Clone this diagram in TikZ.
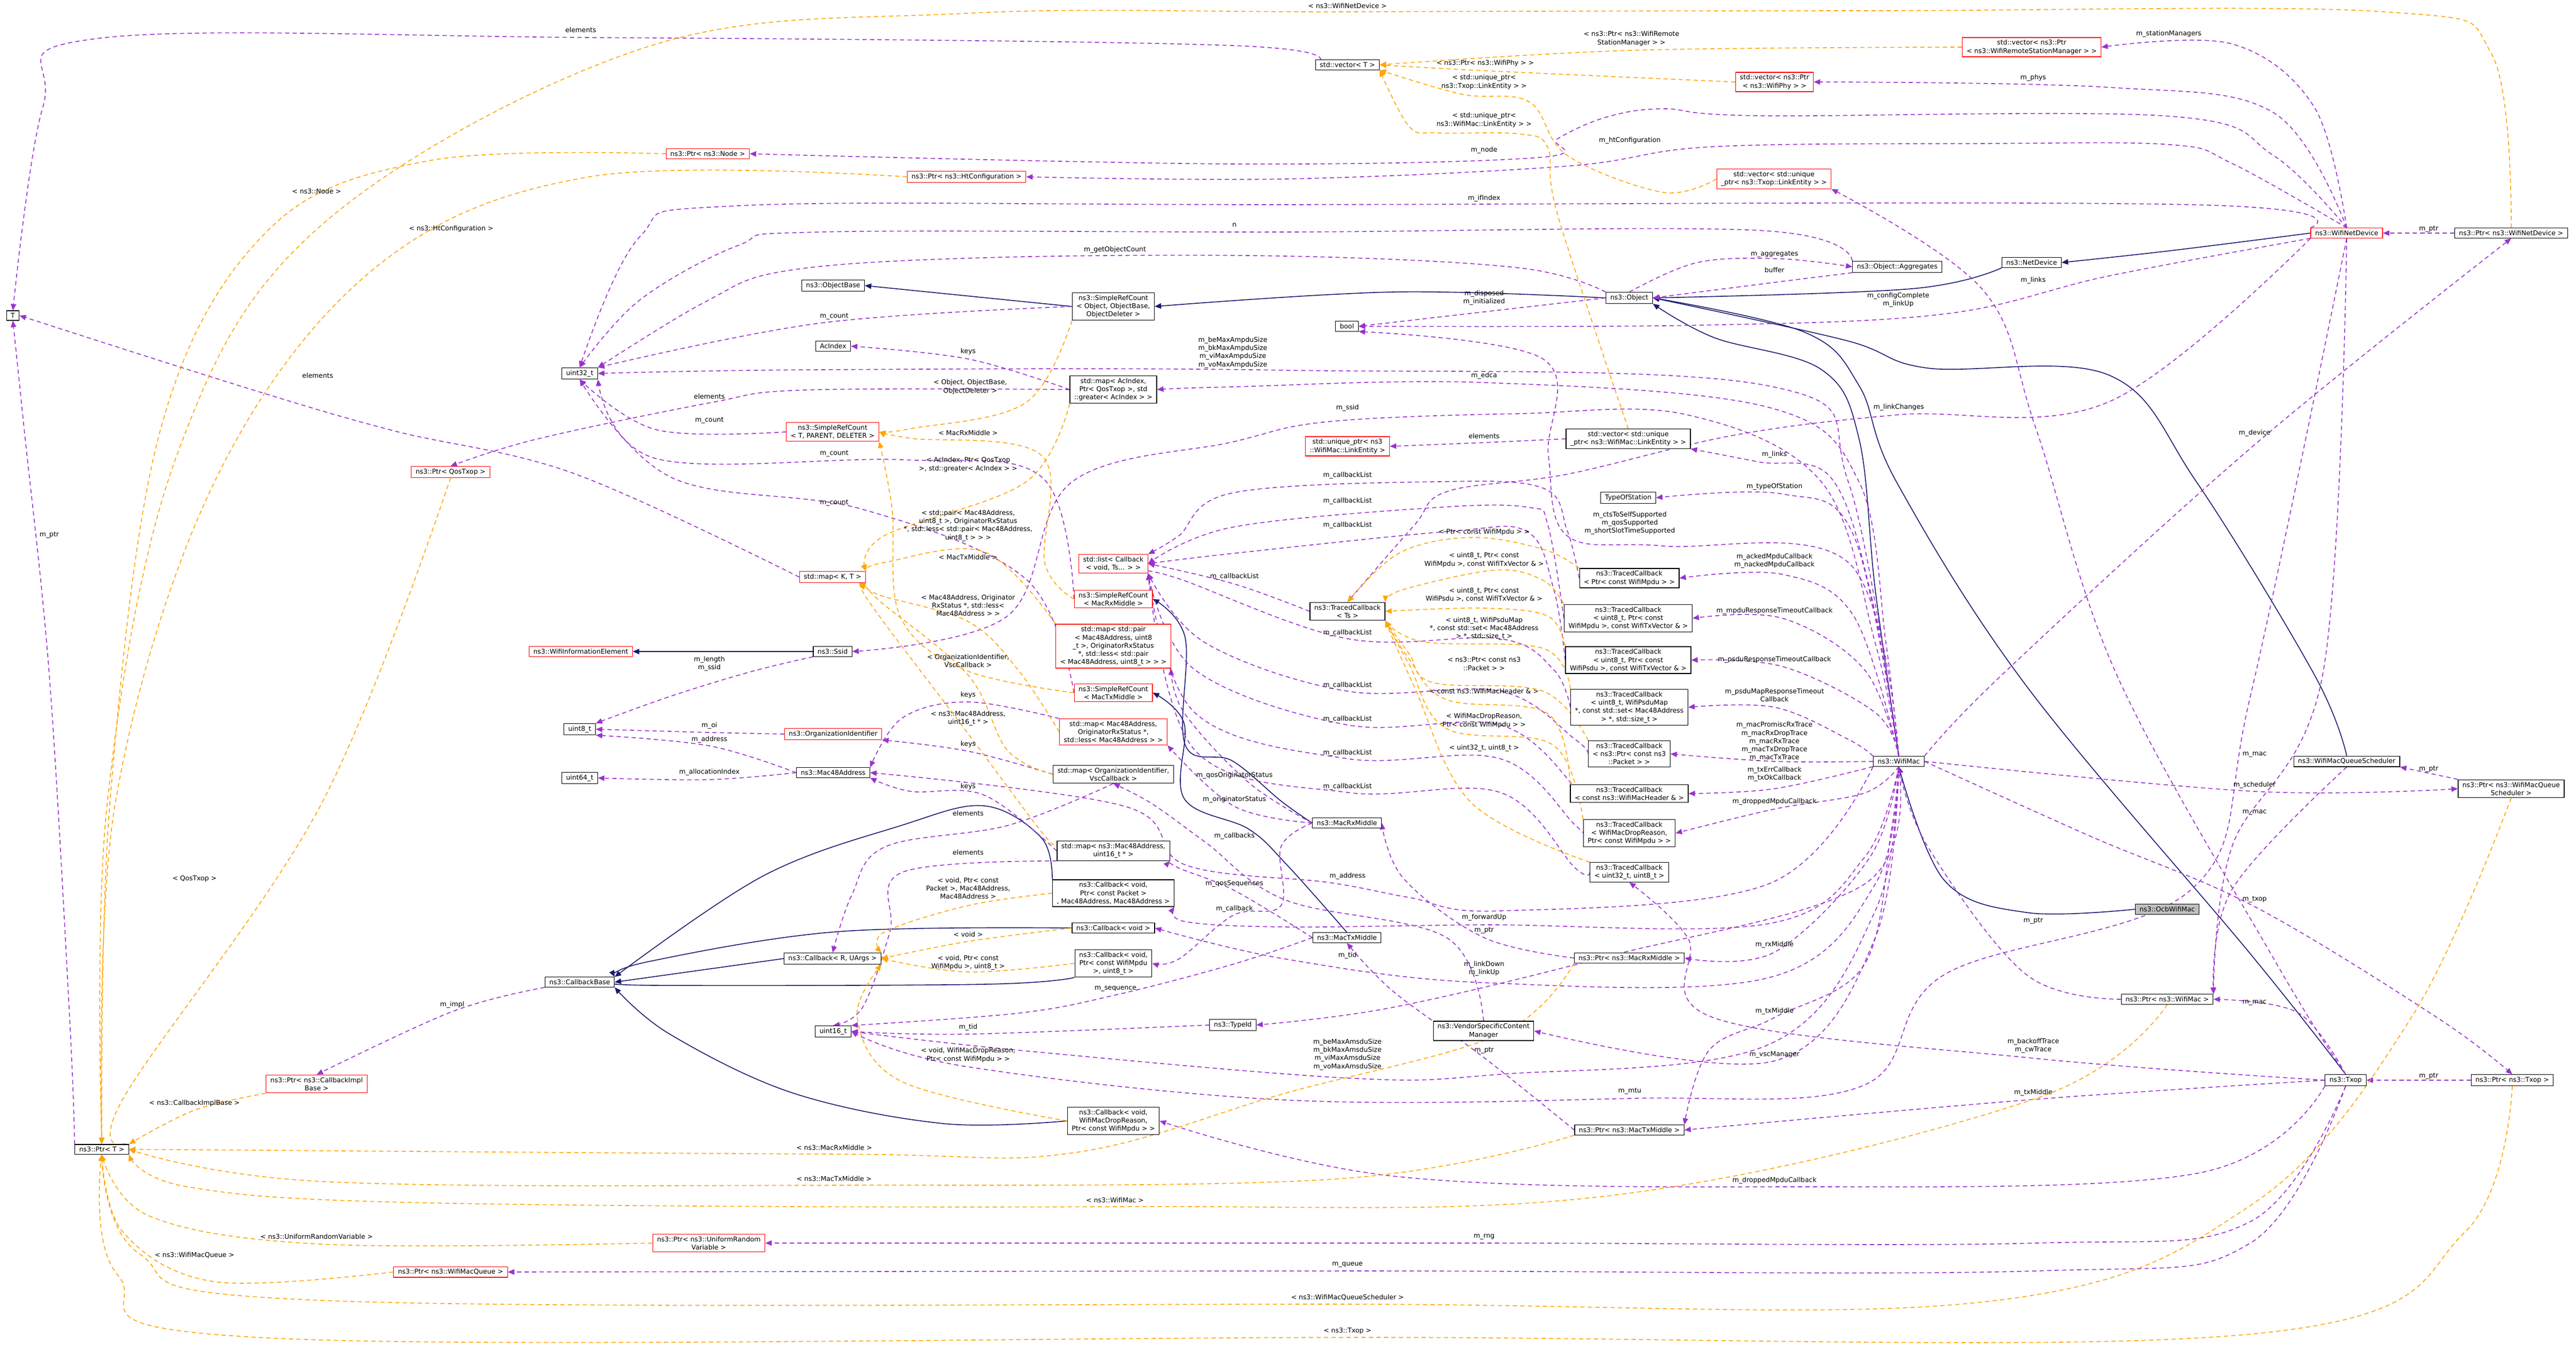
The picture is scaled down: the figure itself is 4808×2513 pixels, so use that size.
\documentclass[tikz,border=0pt]{standalone}
\usepackage{fontspec}
\usetikzlibrary{arrows.meta}
\newfontfamily\nfam{DejaVu Sans}
\newcommand\nf{\nfam\fontsize{6.2}{7.6}\selectfont}
\definecolor{purpc}{RGB}{154,50,205}
\definecolor{orangec}{RGB}{255,165,0}
\definecolor{navyc}{RGB}{25,25,112}
\pgfdeclarelayer{back}
\pgfdeclarelayer{edges}
\pgfsetlayers{back,edges,main}
\newcommand{\ed}[4]{\draw[#1] plot[smooth,tension=0.6] coordinates {(#2) #3 (#4)};}
\newcommand{\lab}[4]{\node[lbl] (#1) at (#2,#3) {#4};}
\tikzset{
 box/.style={draw=black, fill=white, font=\nf, align=center, inner xsep=4pt, inner ysep=2.2pt, line width=0.6pt},
 rbox/.style={box, draw=red},
 gbox/.style={box, fill=black!25},
 lbl/.style={font=\nf, align=center, inner sep=0pt},
 tipx/.style={-{Triangle[length=6pt,width=5pt]}},
 inh/.style={draw=navyc, line width=0.8pt, tipx},
 use/.style={draw=purpc, line width=0.8pt, dash pattern=on 4pt off 3pt, tipx},
 tmpl/.style={draw=orangec, line width=0.8pt, dash pattern=on 4pt off 3pt, tipx},
}
\begin{document}
\begin{tikzpicture}[x=0.5pt,y=-0.5pt]
\begin{pgfonlayer}{back}
\fill[white] (0,0) rectangle (4808,2513);
\end{pgfonlayer}
\useasboundingbox (0,0) rectangle (4808,2513);
\node[box] (nT) at (24,589) {T};
\node[box] (nPtrT) at (190,2145) {ns3::Ptr< T >};
\node[box] (nU32) at (1082,697) {uint32\_t};
\node[box] (nU8) at (1082,1361) {uint8\_t};
\node[box] (nU64) at (1082,1452) {uint64\_t};
\node[box] (nU16) at (1555,1925) {uint16\_t};
\node[box] (nCB) at (1082,1833) {ns3::CallbackBase};
\node[rbox] (nWIE) at (1084,1216) {ns3::WifiInformationElement};
\node[box] (nSsid) at (1554,1216) {ns3::Ssid};
\node[box] (nObjBase) at (1555,533) {ns3::ObjectBase};
\node[box] (nAcIndex) at (1555,646) {AcIndex};
\node[rbox] (nSRCT) at (1554,806) {ns3::SimpleRefCount\\< T, PARENT, DELETER >};
\node[rbox] (nQos) at (841,881) {ns3::Ptr< QosTxop >};
\node[rbox] (nMapKT) at (1554,1077) {std::map< K, T >};
\node[rbox] (nOrgId) at (1555,1370) {ns3::OrganizationIdentifier};
\node[box] (nMac48) at (1555,1442) {ns3::Mac48Address};
\node[box] (nCbR) at (1554,1789) {ns3::Callback< R, UArgs >};
\node[rbox] (nPtrNode) at (1321,287) {ns3::Ptr< ns3::Node >};
\node[rbox] (nPtrHt) at (1804,330) {ns3::Ptr< ns3::HtConfiguration >};
\node[rbox] (nPtrCBI) at (591,2023) {ns3::Ptr< ns3::CallbackImpl\\Base >};
\node[rbox] (nPtrURV) at (1323,2320) {ns3::Ptr< ns3::UniformRandom\\Variable >};
\node[rbox] (nPtrWMQ) at (841,2374) {ns3::Ptr< ns3::WifiMacQueue >};
\node[box] (nSRCObj) at (2078,572) {ns3::SimpleRefCount\\< Object, ObjectBase,\\ ObjectDeleter >};
\node[box] (nMapAc) at (2078,727) {std::map< AcIndex,\\ Ptr< QosTxop >, std\\::greater< AcIndex > >};
\node[rbox] (nList) at (2078,1052) {std::list< Callback\\< void, Ts... > >};
\node[rbox] (nSRCRx) at (2078,1118) {ns3::SimpleRefCount\\< MacRxMiddle >};
\node[rbox] (nMapPair) at (2078,1206) {std::map< std::pair\\< Mac48Address, uint8\\\_t >, OriginatorRxStatus\\ *, std::less< std::pair\\< Mac48Address, uint8\_t > > >};
\node[rbox] (nSRCTx) at (2078,1293) {ns3::SimpleRefCount\\< MacTxMiddle >};
\node[rbox] (nMapMac) at (2078,1366) {std::map< Mac48Address,\\ OriginatorRxStatus *,\\ std::less< Mac48Address > >};
\node[box] (nMapOrg) at (2078,1445) {std::map< OrganizationIdentifier,\\ VscCallback >};
\node[box] (nMapMac16) at (2078,1588) {std::map< ns3::Mac48Address,\\ uint16\_t * >};
\node[box] (nCbPkt) at (2078,1667) {ns3::Callback< void,\\ Ptr< const Packet >\\, Mac48Address, Mac48Address >};
\node[box] (nCbVoid) at (2078,1732) {ns3::Callback< void >};
\node[box] (nCbMpdu) at (2078,1798) {ns3::Callback< void,\\ Ptr< const WifiMpdu\\ >, uint8\_t >};
\node[box] (nCbDrop) at (2078,2092) {ns3::Callback< void,\\ WifiMacDropReason,\\ Ptr< const WifiMpdu > >};
\node[box] (nTypeId) at (2301,1913) {ns3::TypeId};
\node[box] (nVecT) at (2515,121) {std::vector< T >};
\node[box] (nBool) at (2514,609) {bool};
\node[rbox] (nUniqML) at (2515,833) {std::unique\_ptr< ns3\\::WifiMac::LinkEntity >};
\node[box] (nTCTs) at (2515,1141) {ns3::TracedCallback\\< Ts >};
\node[box] (nMacRx) at (2514,1536) {ns3::MacRxMiddle};
\node[box] (nMacTx) at (2514,1750) {ns3::MacTxMiddle};
\node[box] (nVSCM) at (2769,1924) {ns3::VendorSpecificContent\\Manager};
\node[box] (nObject) at (3041,556) {ns3::Object};
\node[box] (nVecML) at (3039,819) {std::vector< std::unique\\\_ptr< ns3::WifiMac::LinkEntity > >};
\node[box] (nTOS) at (3039,929) {TypeOfStation};
\node[box] (nTC1) at (3041,1079) {ns3::TracedCallback\\< Ptr< const WifiMpdu > >};
\node[box] (nTC2) at (3039,1154) {ns3::TracedCallback\\< uint8\_t, Ptr< const\\ WifiMpdu >, const WifiTxVector \& >};
\node[box] (nTC3) at (3039,1232) {ns3::TracedCallback\\< uint8\_t, Ptr< const\\ WifiPsdu >, const WifiTxVector \& >};
\node[box] (nTC4) at (3041,1320) {ns3::TracedCallback\\< uint8\_t, WifiPsduMap\\ *, const std::set< Mac48Address\\ > *, std::size\_t >};
\node[box] (nTC5) at (3041,1407) {ns3::TracedCallback\\< ns3::Ptr< const ns3\\::Packet > >};
\node[box] (nTC6) at (3041,1481) {ns3::TracedCallback\\< const ns3::WifiMacHeader \& >};
\node[box] (nTC7) at (3041,1555) {ns3::TracedCallback\\< WifiMacDropReason,\\ Ptr< const WifiMpdu > >};
\node[box] (nTC8) at (3041,1628) {ns3::TracedCallback\\< uint32\_t, uint8\_t >};
\node[box] (nPtrRx) at (3041,1788) {ns3::Ptr< ns3::MacRxMiddle >};
\node[box] (nPtrTx) at (3041,2109) {ns3::Ptr< ns3::MacTxMiddle >};
\node[rbox] (nVecPhy) at (3312,153) {std::vector< ns3::Ptr\\< ns3::WifiPhy > >};
\node[rbox] (nVecTxop) at (3311,334) {std::vector< std::unique\\\_ptr< ns3::Txop::LinkEntity > >};
\node[box] (nAggr) at (3541,498) {ns3::Object::Aggregates};
\node[box] (nWifiMac) at (3544,1421) {ns3::WifiMac};
\node[rbox] (nVecRSM) at (3792,88) {std::vector< ns3::Ptr\\< ns3::WifiRemoteStationManager > >};
\node[box] (nNetDev) at (3792,490) {ns3::NetDevice};
\node[gbox] (nOcb) at (4045,1697) {ns3::OcbWifiMac};
\node[box] (nPtrMac) at (4045,1865) {ns3::Ptr< ns3::WifiMac >};
\node[rbox] (nWND) at (4380,435) {ns3::WifiNetDevice};
\node[box] (nWMQS) at (4380,1421) {ns3::WifiMacQueueScheduler};
\node[box] (nTxop) at (4378,2016) {ns3::Txop};
\node[box] (nPtrWND) at (4687,435) {ns3::Ptr< ns3::WifiNetDevice >};
\node[box] (nPtrWMQS) at (4687,1472) {ns3::Ptr< ns3::WifiMacQueue\\Scheduler >};
\node[box] (nPtrTxop) at (4689,2016) {ns3::Ptr< ns3::Txop >};
\begin{pgfonlayer}{edges}
% ---------- inheritance ----------
\ed{inh}{nSRCObj.west}{}{nObjBase.east}
\ed{inh}{nObject.west}{(2600,545)}{nSRCObj.east}
\ed{inh}{nNetDev.south west}{(3567,539)}{nObject.east}
\ed{inh}{nWND.west}{(4050,468)}{nNetDev.east}
\ed{inh}{nWifiMac.north}{(3500,1100) (3470,820) (3400,690) (3199,630)}{nObject.south east}
\ed{inh}{nTxop.north}{(4200,1780) (3782,1280) (3540,900) (3470,720) (3368,620)}{nObject.east}
\ed{inh}{nWMQS.north}{(4320,1260) (4100,900) (3936,700) (3598,687) (3444,635)}{nObject.east}
\ed{inh}{nOcb.west}{(3782,1703) (3629,1643)}{nWifiMac.south}
\ed{inh}{nMacRx.west}{(2391,1495) (2300,1420) (2212,1390) (2212,1190)}{nSRCRx.east}
\ed{inh}{nMacTx.north}{(2400,1612) (2330,1547) (2210,1490) (2210,1350)}{nSRCTx.east}
\ed{inh}{nCbPkt.north west}{(1944,1564) (1837,1504) (1684,1540) (1424,1635)}{nCB.north east}
\ed{inh}{nCbVoid.west}{(1561,1739) (1209,1795)}{nCB.north east}
\ed{inh}{nCbR.west}{}{nCB.east}
\ed{inh}{nCbMpdu.south west}{(1837,1837) (1225,1839)}{nCB.east}
\ed{inh}{nCbDrop.west}{(1761,2097) (1480,2040) (1250,1930)}{nCB.south east}
\ed{inh}{nSsid.west}{}{nWIE.east}
% ---------- usage ----------
\ed{use}{nVecT.west}{(2300,85) (1100,70) (180,72) (80,200)}{nT.north}
\ed{use}{nMapKT.west}{(1072,884) (735,804) (460,724)}{nT.east}
\ed{use}{nPtrT.north west}{(130,1900) (92,1260) (45,800)}{nT.south}
\ed{use}{nObject.north west}{(2836,500) (2400,478) (1837,481) (1470,505) (1317,563)}{nU32.north east}
\ed{use}{nAggr.north west}{(3282,430) (2400,433) (1531,433) (1378,458) (1194,560)}{nU32.north}
\ed{use}{nWND.north west}{(4090,382) (2400,382) (1378,384) (1194,442)}{nU32.north}
\ed{use}{nSRCObj.west}{(1531,603)}{nU32.north east}
\ed{use}{nSRCT.west}{(1225,802)}{nU32.south}
\ed{use}{nSRCRx.west}{(1944,890) (1684,858) (1225,856)}{nU32.south east}
\ed{use}{nSRCTx.west}{(1914,1080) (1608,950) (1255,892)}{nU32.south}
\ed{use}{nWifiMac.north}{(3450,900) (3300,720) (2400,691) (1531,690)}{nU32.east}
\ed{use}{nObject.west}{(2770,582)}{nBool.east}
\ed{use}{nWND.south west}{(3936,515) (3629,586) (3168,607)}{nBool.east}
\ed{use}{nWifiMac.north}{(3450,1050) (3104,1019) (2925,1000) (2890,850) (2880,670)}{nBool.south east}
\ed{use}{nObject.north}{(3168,490) (3322,483)}{nAggr.west}
\ed{use}{nAggr.south west}{(3312,527)}{nObject.east}
\ed{use}{nPtrWND.west}{}{nWND.east}
\ed{use}{nPtrWMQS.north west}{}{nWMQS.south east}
\ed{use}{nPtrTxop.west}{}{nTxop.east}
\ed{use}{nWND.north}{(4320,201) (4166,82)}{nVecRSM.east}
\ed{use}{nWND.north}{(4243,210) (3936,163)}{nVecPhy.east}
\ed{use}{nWND.north}{(4166,305) (4051,270) (3700,268) (3193,274) (2925,310) (2400,334)}{nPtrHt.east}
\ed{use}{nWND.north}{(4243,290) (4051,217) (3282,216) (3104,203) (2997,219) (2907,259) (2871,294) (2300,306)}{nPtrNode.east}
\ed{use}{nWND.south}{(4335,1260) (4166,1580)}{nPtrMac.north east}
\ed{use}{nWMQS.south}{(4166,1660)}{nPtrMac.north east}
\ed{use}{nTxop.north}{(4289,1890)}{nPtrMac.east}
\ed{use}{nPtrMac.west}{(3782,1819) (3598,1580)}{nWifiMac.south}
\ed{use}{nTxop.north}{(4250,1800) (3951,1260) (3800,800) (3700,540)}{nVecTxop.south east}
\ed{use}{nWifiMac.north east}{(3736,1260) (4208,830)}{nPtrWND.south}
\ed{use}{nWND.south west}{(3936,750) (3544,774) (3238,812) (2925,885) (2702,917) (2639,981)}{nTCTs.north}
\ed{use}{nWifiMac.north}{(3520,1200) (3470,900) (3300,760) (2770,714) (2300,722)}{nMapAc.east}
\ed{use}{nWifiMac.north}{(3500,1200) (3400,900) (3148,774) (2836,772) (2479,787) (2300,825) (2000,900) (1880,1150)}{nSsid.east}
\ed{use}{nWifiMac.north}{(3490,1100) (3416,890) (3282,862)}{nVecML.south east}
\ed{use}{nWifiMac.north}{(3460,1000) (3327,922)}{nTOS.east}
\ed{use}{nWifiMac.north}{(3460,1150) (3327,1072)}{nTC1.east}
\ed{use}{nWifiMac.north}{(3480,1250) (3327,1154)}{nTC2.east}
\ed{use}{nWifiMac.north}{(3500,1330) (3327,1244)}{nTC3.east}
\ed{use}{nWifiMac.north west}{(3450,1380) (3312,1320)}{nTC4.east}
\ed{use}{nWifiMac.west}{(3312,1421)}{nTC5.east}
\ed{use}{nWifiMac.south west}{(3312,1472)}{nTC6.east}
\ed{use}{nWifiMac.south}{(3480,1480) (3312,1510)}{nTC7.east}
\ed{use}{nWifiMac.south}{(3480,1600) (3300,1724) (2770,1726) (2400,1730) (2212,1720)}{nCbPkt.south east}
\ed{use}{nWifiMac.south}{(3500,1650) (3300,1825) (2770,1834) (2400,1790)}{nCbVoid.east}
\ed{use}{nWifiMac.south}{(3490,1600) (3312,1777)}{nPtrRx.east}
\ed{use}{nWifiMac.south}{(3530,1550) (3480,1800) (3312,1899) (3190,1960)}{nPtrTx.north east}
\ed{use}{nWifiMac.south}{(3500,1750) (3312,1980)}{nVSCM.east}
\ed{use}{nWifiMac.south}{(3500,1700) (3300,1950) (2800,2005) (2515,2012) (1900,1960)}{nU16.east}
\ed{use}{nWifiMac.south}{(3480,1650) (3000,1785) (2600,1880)}{nTypeId.east}
\ed{use}{nWifiMac.south west}{(3300,1650) (2800,1700) (2630,1675) (2480,1647) (2212,1614) (2100,1505)}{nMac48.east}
\ed{use}{nWifiMac.east}{(4208,1477)}{nPtrWMQS.west}
\ed{use}{nWifiMac.east}{(3900,1560) (4208,1692) (4550,1900)}{nPtrTxop.north}
\ed{use}{nTxop.west}{(3795,1975) (3200,1900) (3150,1750)}{nTC8.south}
\ed{use}{nTxop.west}{(3795,2052)}{nPtrTx.east}
\ed{use}{nTxop.south west}{(4100,2190) (3312,2215) (2600,2195)}{nCbDrop.east}
\ed{use}{nTxop.south}{(4200,2280) (3800,2320) (2770,2320)}{nPtrURV.east}
\ed{use}{nTxop.south}{(4200,2320) (3800,2372) (2515,2372)}{nPtrWMQ.east}
\ed{use}{nWND.south}{(4200,1300) (4090,1660) (3629,1819) (3475,2027) (3042,2050) (2400,2053) (1800,1990)}{nU16.east}
\ed{use}{nMacRx.west}{(2330,1460) (2210,1330)}{nMapPair.south east}
\ed{use}{nMacRx.west}{(2304,1505)}{nMapMac.south east}
\ed{use}{nMacRx.west}{(2391,1580) (2391,1690) (2302,1708) (2200,1790)}{nCbMpdu.east}
\ed{use}{nVSCM.north}{(2700,1750) (2400,1680) (2250,1572) (2150,1500)}{nMapOrg.south}
\ed{use}{nMacTx.west}{(2304,1662) (2200,1620)}{nMapMac16.south east}
\ed{use}{nMacTx.west}{(2300,1800) (2082,1857) (1900,1891)}{nU16.north east}
\ed{use}{nTypeId.west}{(1807,1930)}{nU16.east}
\ed{use}{nPtrRx.west}{(2770,1750) (2620,1640)}{nMacRx.east}
\ed{use}{nPtrTx.west}{(2770,1974) (2600,1850)}{nMacTx.south}
\ed{use}{nMapAc.west}{(1807,670)}{nAcIndex.east}
\ed{use}{nMapAc.west}{(1500,728) (1324,752) (1000,820)}{nQos.north}
\ed{use}{nMapMac.north west}{(1807,1310) (1684,1340)}{nMac48.north east}
\ed{use}{nMapOrg.west}{(1807,1402)}{nOrgId.south east}
\ed{use}{nMapMac16.west}{(1837,1484) (1700,1477)}{nMac48.south east}
\ed{use}{nMapOrg.south}{(1883,1540) (1653,1580) (1590,1670)}{nCbR.north}
\ed{use}{nMapMac16.south west}{(1684,1628) (1661,1739) (1610,1880)}{nU16.north}
\ed{use}{nOrgId.west}{(1324,1367)}{nU8.east}
\ed{use}{nMac48.west}{(1324,1392)}{nU8.south east}
\ed{use}{nMac48.west}{(1324,1455)}{nU64.east}
\ed{use}{nSsid.south west}{(1400,1254) (1250,1300)}{nU8.north east}
\ed{use}{nCB.south west}{(844,1888)}{nPtrCBI.north}
\ed{use}{nVecML.west}{(2770,826)}{nUniqML.east}
\ed{use}{nTCTs.west}{(2304,1090)}{nList.east}
\ed{use}{nTC1.west}{(2925,990) (2880,911) (2684,899) (2300,920) (2200,1000)}{nList.north east}
\ed{use}{nTC2.west}{(2889,980) (2854,947) (2684,947) (2300,984)}{nList.east}
\ed{use}{nTC3.west}{(2900,1100) (2850,992) (2702,992) (2300,1033)}{nList.east}
\ed{use}{nTC4.west}{(2900,1250) (2800,1192) (2515,1192) (2200,1080)}{nList.south east}
\ed{use}{nTC5.west}{(2940,1380) (2800,1290) (2515,1290) (2250,1200)}{nList.south east}
\ed{use}{nTC6.west}{(2940,1470) (2800,1353) (2515,1353) (2230,1250)}{nList.south east}
\ed{use}{nTC7.west}{(2940,1540) (2800,1416) (2515,1416) (2230,1330)}{nList.south east}
\ed{use}{nTC8.west}{(2940,1620) (2800,1479) (2515,1479) (2230,1400)}{nList.south east}
% ---------- template ----------
\ed{tmpl}{nPtrNode.west}{(800,300) (500,430) (300,800) (205,1500)}{nPtrT.north}
\ed{tmpl}{nPtrHt.west}{(1100,330) (700,500) (400,900) (215,1500)}{nPtrT.north}
\ed{tmpl}{nPtrWND.north}{(4650,100) (4450,22) (3500,20) (2515,22) (1800,25) (1200,90) (600,420) (330,850) (200,1500)}{nPtrT.north}
\ed{tmpl}{nQos.south}{(600,1500) (230,2050)}{nPtrT.north east}
\ed{tmpl}{nPtrCBI.south west}{(363,2072)}{nPtrT.north east}
\ed{tmpl}{nPtrRx.south west}{(2800,1930) (2400,2040) (2000,2152) (1557,2154)}{nPtrT.east}
\ed{tmpl}{nPtrTx.south west}{(2500,2200) (1557,2212) (600,2205)}{nPtrT.east}
\ed{tmpl}{nPtrMac.south}{(3800,2050) (3000,2232) (2081,2252) (800,2245) (350,2215)}{nPtrT.south east}
\ed{tmpl}{nPtrURV.west}{(600,2322) (280,2270)}{nPtrT.south}
\ed{tmpl}{nPtrWMQ.west}{(400,2392) (230,2300)}{nPtrT.south}
\ed{tmpl}{nPtrWMQS.south}{(4500,1900) (4200,2250) (3700,2430) (2515,2434) (600,2427) (260,2340)}{nPtrT.south}
\ed{tmpl}{nPtrTxop.south}{(4600,2300) (4200,2490) (2515,2496) (500,2497) (220,2380)}{nPtrT.south}
\ed{tmpl}{nVecRSM.west}{(3045,94)}{nVecT.east}
\ed{tmpl}{nVecPhy.west}{(2772,132)}{nVecT.east}
\ed{tmpl}{nVecTxop.west}{(3104,359) (2925,290) (2854,190) (2729,176)}{nVecT.south east}
\ed{tmpl}{nVecML.north}{(2907,400) (2889,276) (2836,250) (2684,248) (2630,236)}{nVecT.south east}
\ed{tmpl}{nSRCObj.south west}{(1914,752) (1700,800)}{nSRCT.east}
\ed{tmpl}{nSRCRx.west}{(1950,1050) (1944,850) (1700,818)}{nSRCT.east}
\ed{tmpl}{nSRCTx.west}{(1800,1250) (1680,1150) (1665,950)}{nSRCT.south east}
\ed{tmpl}{nMapAc.south west}{(1914,900) (1650,1000)}{nMapKT.north east}
\ed{tmpl}{nMapPair.north west}{(1837,1030) (1650,1050)}{nMapKT.north east}
\ed{tmpl}{nMapMac.west}{(1900,1250) (1807,1160) (1640,1110)}{nMapKT.south east}
\ed{tmpl}{nMapOrg.west}{(1880,1400) (1807,1260) (1640,1120)}{nMapKT.south east}
\ed{tmpl}{nMapMac16.north west}{(1950,1560) (1800,1360) (1620,1120)}{nMapKT.south east}
\ed{tmpl}{nCbPkt.west}{(1807,1690) (1650,1740)}{nCbR.north east}
\ed{tmpl}{nCbVoid.west}{(1807,1757)}{nCbR.east}
\ed{tmpl}{nCbMpdu.west}{(1807,1814)}{nCbR.east}
\ed{tmpl}{nCbDrop.west}{(1684,2019) (1600,1900)}{nCbR.south east}
\ed{tmpl}{nTC1.north west}{(2880,1025) (2746,1003) (2612,1032)}{nTCTs.north}
\ed{tmpl}{nTC2.north west}{(2880,1083) (2791,1064) (2620,1100)}{nTCTs.north east}
\ed{tmpl}{nTC3.north west}{(2889,1150) (2770,1135)}{nTCTs.east}
\ed{tmpl}{nTC4.north west}{(2880,1210) (2657,1198)}{nTCTs.south east}
\ed{tmpl}{nTC5.north west}{(2880,1290) (2675,1274) (2630,1220)}{nTCTs.south east}
\ed{tmpl}{nTC6.north west}{(2889,1332) (2700,1306) (2630,1230)}{nTCTs.south east}
\ed{tmpl}{nTC7.north west}{(2898,1390) (2700,1360) (2630,1240)}{nTCTs.south east}
\ed{tmpl}{nTC8.north west}{(2746,1498) (2639,1280)}{nTCTs.south east}
\end{pgfonlayer}
% ---------- labels ----------
\lab{L1}{1084}{56}{elements}
\lab{L2}{591}{357}{< ns3::Node >}
\lab{L3}{842}{427}{< ns3::HtConfiguration >}
\lab{L4}{2304}{420}{n}
\lab{L5}{2081}{466}{m\_getObjectCount}
\lab{L6}{1557}{591}{m\_count}
\lab{L7}{1807}{656}{keys}
\lab{L8}{2301}{658}{m\_beMaxAmpduSize\\m\_bkMaxAmpduSize\\m\_viMaxAmpduSize\\m\_voMaxAmpduSize}
\lab{L9}{1811}{722}{< Object, ObjectBase,\\ObjectDeleter >}
\lab{L10}{593}{701}{elements}
\lab{L11}{1324}{740}{elements}
\lab{L12}{1324}{785}{m\_count}
\lab{L13}{1807}{808}{< MacRxMiddle >}
\lab{L14}{1557}{847}{m\_count}
\lab{L15}{1807}{867}{< AcIndex, Ptr< QosTxop\\>, std::greater< AcIndex > >}
\lab{L16}{1557}{939}{m\_count}
\lab{L17}{1807}{981}{< std::pair< Mac48Address,\\uint8\_t >, OriginatorRxStatus\\*, std::less< std::pair< Mac48Address,\\uint8\_t > > >}
\lab{L18}{1807}{1040}{< MacTxMiddle >}
\lab{L19}{2304}{1076}{m\_callbackList}
\lab{L20}{1807}{1130}{< Mac48Address, Originator\\RxStatus *, std::less<\\Mac48Address > >}
\lab{L21}{1324}{1239}{m\_length\\m\_ssid}
\lab{L22}{1807}{1233}{< OrganizationIdentifier,\\VscCallback >}
\lab{L23}{2515}{11}{< ns3::WifiNetDevice >}
\lab{L24}{3045}{72}{< ns3::Ptr< ns3::WifiRemote\\StationManager > >}
\lab{L25}{4048}{63}{m\_stationManagers}
\lab{L26}{2772}{118}{< ns3::Ptr< ns3::WifiPhy > >}
\lab{L27}{2770}{153}{< std::unique\_ptr<\\ns3::Txop::LinkEntity > >}
\lab{L28}{3795}{145}{m\_phys}
\lab{L29}{2770}{224}{< std::unique\_ptr<\\ns3::WifiMac::LinkEntity > >}
\lab{L30}{2770}{280}{m\_node}
\lab{L31}{3042}{262}{m\_htConfiguration}
\lab{L32}{2770}{370}{m\_ifIndex}
\lab{L33}{3312}{475}{m\_aggregates}
\lab{L34}{3312}{504}{buffer}
\lab{L35}{4533}{428}{m\_ptr}
\lab{L36}{3795}{523}{m\_links}
\lab{L37}{2770}{556}{m\_disposed\\m\_initialized}
\lab{L38}{3543}{560}{m\_configComplete\\m\_linkUp}
\lab{L39}{2770}{701}{m\_edca}
\lab{L40}{2515}{761}{m\_ssid}
\lab{L41}{3544}{760}{m\_linkChanges}
\lab{L42}{4208}{808}{m\_device}
\lab{L43}{2770}{814}{elements}
\lab{L44}{3312}{848}{m\_links}
\lab{L45}{2515}{887}{m\_callbackList}
\lab{L46}{3312}{908}{m\_typeOfStation}
\lab{L47}{2515}{935}{m\_callbackList}
\lab{L48}{3042}{976}{m\_ctsToSelfSupported\\m\_qosSupported\\m\_shortSlotTimeSupported}
\lab{L49}{2515}{980}{m\_callbackList}
\lab{L50}{2770}{993}{< Ptr< const WifiMpdu > >}
\lab{L51}{3312}{1047}{m\_ackedMpduCallback\\m\_nackedMpduCallback}
\lab{L52}{2770}{1045}{< uint8\_t, Ptr< const\\WifiMpdu >, const WifiTxVector \& >}
\lab{L53}{2770}{1110}{< uint8\_t, Ptr< const\\WifiPsdu >, const WifiTxVector \& >}
\lab{L54}{3312}{1140}{m\_mpduResponseTimeoutCallback}
\lab{L55}{2770}{1173}{< uint8\_t, WifiPsduMap\\*, const std::set< Mac48Address\\> *, std::size\_t >}
\lab{L56}{2515}{1181}{m\_callbackList}
\lab{L57}{2770}{1239}{< ns3::Ptr< const ns3\\::Packet > >}
\lab{L58}{3312}{1231}{m\_psduResponseTimeoutCallback}
\lab{L59}{2515}{1279}{m\_callbackList}
\lab{L60}{2770}{1290}{< const ns3::WifiMacHeader \& >}
\lab{L61}{3312}{1297}{m\_psduMapResponseTimeout\\Callback}
\lab{L62}{2515}{1342}{m\_callbackList}
\lab{L63}{2770}{1345}{< WifiMacDropReason,\\Ptr< const WifiMpdu > >}
\lab{L64}{3312}{1384}{m\_macPromiscRxTrace\\m\_macRxDropTrace\\m\_macRxTrace\\m\_macTxDropTrace\\m\_macTxTrace}
\lab{L65}{2770}{1396}{< uint32\_t, uint8\_t >}
\lab{L66}{2515}{1405}{m\_callbackList}
\lab{L67}{4208}{1408}{m\_mac}
\lab{L68}{3312}{1445}{m\_txErrCallback\\m\_txOkCallback}
\lab{L69}{4208}{1465}{m\_scheduler}
\lab{L70}{4533}{1436}{m\_ptr}
\lab{L71}{2515}{1468}{m\_callbackList}
\lab{L72}{3312}{1496}{m\_droppedMpduCallback}
\lab{L73}{4208}{1516}{m\_mac}
\lab{L74}{2515}{1635}{m\_address}
\lab{L75}{4208}{1679}{m\_txop}
\lab{L76}{2770}{1712}{m\_forwardUp}
\lab{L77}{3795}{1719}{m\_ptr}
\lab{L78}{2770}{1737}{m\_ptr}
\lab{L79}{3312}{1763}{m\_rxMiddle}
\lab{L80}{2515}{1783}{m\_tid}
\lab{L81}{2770}{1808}{m\_linkDown\\m\_linkUp}
\lab{L82}{4208}{1871}{m\_mac}
\lab{L83}{3312}{1887}{m\_txMiddle}
\lab{L84}{3795}{1952}{m\_backoffTrace\\m\_cwTrace}
\lab{L85}{2515}{1968}{m\_beMaxAmsduSize\\m\_bkMaxAmsduSize\\m\_viMaxAmsduSize\\m\_voMaxAmsduSize}
\lab{L86}{3312}{1968}{m\_vscManager}
\lab{L87}{2770}{1961}{m\_ptr}
\lab{L88}{4533}{2009}{m\_ptr}
\lab{L89}{3042}{2037}{m\_mtu}
\lab{L90}{3795}{2039}{m\_txMiddle}
\lab{L91}{3312}{2203}{m\_droppedMpduCallback}
\lab{L92}{2770}{2308}{m\_rng}
\lab{L93}{2515}{2360}{m\_queue}
\lab{L94}{2515}{2422}{< ns3::WifiMacQueueScheduler >}
\lab{L95}{2515}{2484}{< ns3::Txop >}
\lab{L96}{1807}{1297}{keys}
\lab{L97}{1807}{1341}{< ns3::Mac48Address,\\uint16\_t * >}
\lab{L98}{1324}{1354}{m\_oi}
\lab{L99}{1324}{1380}{m\_address}
\lab{L100}{1807}{1389}{keys}
\lab{L101}{1324}{1441}{m\_allocationIndex}
\lab{L102}{1807}{1468}{keys}
\lab{L103}{2304}{1447}{m\_qosOriginatorStatus}
\lab{L104}{2304}{1492}{m\_originatorStatus}
\lab{L105}{1807}{1518}{elements}
\lab{L106}{2304}{1560}{m\_callbacks}
\lab{L107}{1807}{1591}{elements}
\lab{L108}{1807}{1658}{< void, Ptr< const\\Packet >, Mac48Address,\\Mac48Address >}
\lab{L109}{2304}{1649}{m\_qosSequences}
\lab{L110}{2304}{1696}{m\_callback}
\lab{L111}{1807}{1744}{< void >}
\lab{L112}{1807}{1797}{< void, Ptr< const\\WifiMpdu >, uint8\_t >}
\lab{L113}{2082}{1845}{m\_sequence}
\lab{L114}{844}{1875}{m\_impl}
\lab{L115}{1807}{1917}{m\_tid}
\lab{L116}{1807}{1969}{< void, WifiMacDropReason,\\Ptr< const WifiMpdu > >}
\lab{L117}{363}{1640}{< QosTxop >}
\lab{L118}{363}{2059}{< ns3::CallbackImplBase >}
\lab{L119}{1557}{2142}{< ns3::MacRxMiddle >}
\lab{L120}{1557}{2200}{< ns3::MacTxMiddle >}
\lab{L121}{2081}{2240}{< ns3::WifiMac >}
\lab{L122}{591}{2308}{< ns3::UniformRandomVariable >}
\lab{L123}{363}{2343}{< ns3::WifiMacQueue >}
\lab{L124}{92}{999}{m\_ptr}
\end{tikzpicture}
\end{document}
